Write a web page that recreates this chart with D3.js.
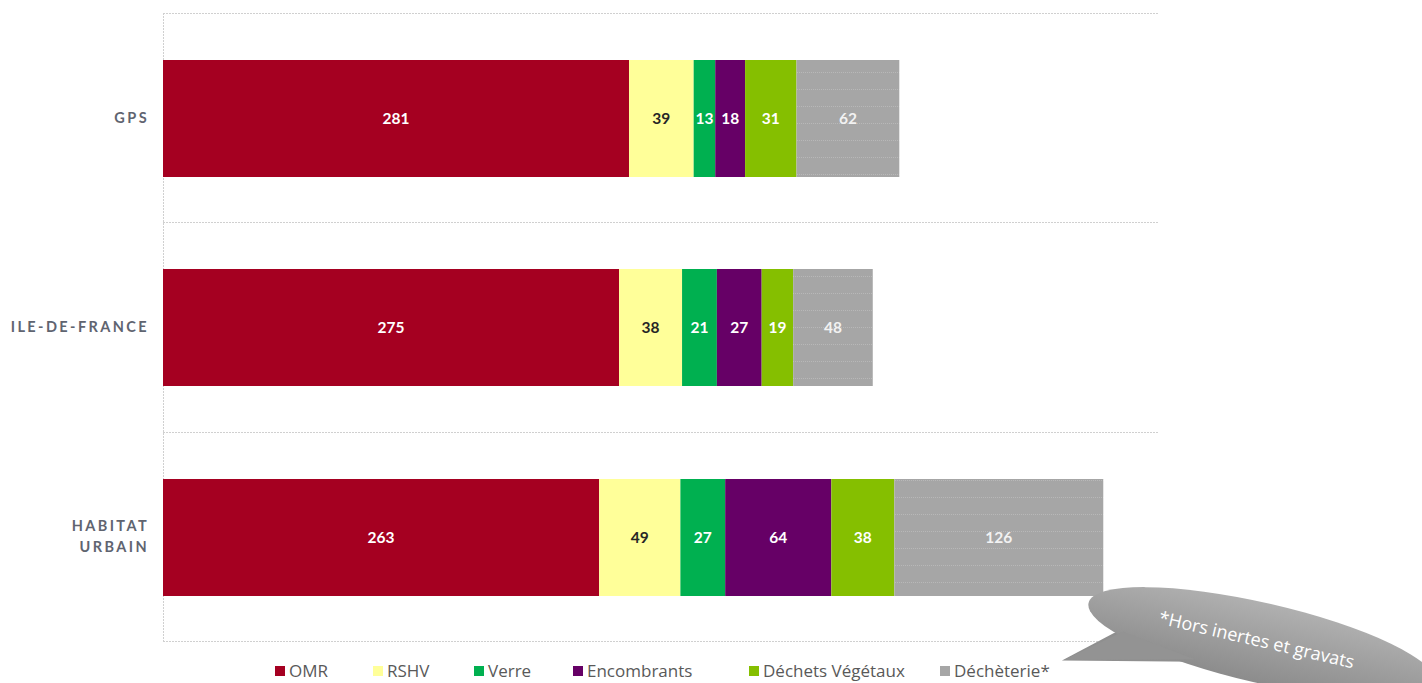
<!DOCTYPE html>
<html>
<head>
<meta charset="utf-8">
<script src="https://cdn.jsdelivr.net/npm/d3@7"></script>
<style>
  body { margin: 0; background: #fff; }
  svg { display: block; font-family: Lato, "Open Sans", sans-serif; }
</style>
</head>
<body>
<div id="canvas"></div>
<script>
const categories = ["GPS", "ILE-DE-FRANCE", "HABITAT URBAIN"];
const seriesNames = ["OMR", "RSHV", "Verre", "Encombrants", "Déchets Végétaux", "Déchèterie*"];
const omr = [281, 275, 263];
const rshv = [39, 38, 49];
const verre = [13, 21, 27];
const encombrants = [18, 27, 64];
const vegetaux = [31, 19, 38];
const decheterie = [62, 48, 126];
const colors = ["#a50021", "#ffff99", "#00b050", "#660066", "#85bf00", "#a6a6a6"];
const labelColors = ["#ffffff", "#262626", "#ffffff", "#ffffff", "#ffffff", "#f2f2f2"];
const note = "*Hors inertes et gravats";

const columns = [omr, rshv, verre, encombrants, vegetaux, decheterie];
const rows = categories.map((c, i) => {
  const r = { cat: c };
  seriesNames.forEach((s, j) => r[s] = columns[j][i]);
  return r;
});

const width = 1422, height = 683;
const margin = { top: 13, left: 163, bottom: 42, right: 264 };
const iwidth = width - margin.left - margin.right;
const iheight = height - margin.top - margin.bottom;

const svg = d3.select("#canvas").append("svg")
  .attr("width", width).attr("height", height);

const defs = svg.append("defs");
const pat = defs.append("pattern").attr("id", "dots")
  .attr("patternUnits", "userSpaceOnUse").attr("width", 6).attr("height", 17);
pat.append("rect").attr("width", 6).attr("height", 17).attr("fill", colors[5]);
pat.append("line").attr("x1", 0).attr("x2", 6).attr("y1", 8.5).attr("y2", 8.5)
  .attr("stroke", "#b8b8b8").attr("stroke-width", 1).attr("stroke-dasharray", "1,1");

const grad = defs.append("linearGradient").attr("id", "bubble")
  .attr("x1", 0).attr("y1", 0).attr("x2", 0).attr("y2", 1);
grad.append("stop").attr("offset", "0%").attr("stop-color", "#b0b0b0");
grad.append("stop").attr("offset", "100%").attr("stop-color", "#8c8c8c");

const g = svg.append("g").attr("transform", `translate(${margin.left},${margin.top})`);

const x = d3.scaleLinear().domain([0, 600]).range([0, iwidth]);
const y = d3.scaleBand().domain(categories).range([0, iheight]).paddingInner(0.44).paddingOuter(0.22);

// band separators
const seps = d3.range(categories.length + 1).map(i => i * iheight / categories.length);
g.selectAll("line.sep").data(seps).enter().append("line")
  .attr("class", "sep")
  .attr("x1", 0).attr("x2", iwidth)
  .attr("y1", d => Math.round(d) + 0.5).attr("y2", d => Math.round(d) + 0.5)
  .attr("stroke", "#d0d0d0").attr("stroke-dasharray", "2,1");
g.append("line").attr("x1", 0.5).attr("x2", 0.5).attr("y1", 0).attr("y2", iheight)
  .attr("stroke", "#d0d0d0").attr("stroke-dasharray", "2,1");

const stack = d3.stack().keys(seriesNames)(rows);

const layers = g.selectAll("g.layer").data(stack).enter().append("g")
  .attr("class", "layer")
  .attr("fill", (d, i) => i === 5 ? "url(#dots)" : colors[i]);

layers.selectAll("rect").data(d => d).enter().append("rect")
  .attr("x", d => x(d[0]))
  .attr("y", d => Math.round(y(d.data.cat)) + 1)
  .attr("width", d => x(d[1]) - x(d[0]))
  .attr("height", Math.round(y.bandwidth()));

layers.each(function (layer, i) {
  d3.select(this).selectAll("text").data(layer).enter().append("text")
    .attr("x", d => (x(d[0]) + x(d[1])) / 2)
    .attr("y", d => y(d.data.cat) + y.bandwidth() / 2 + 1)
    .attr("dy", "0.35em")
    .attr("text-anchor", "middle")
    .attr("font-size", 15.5).attr("font-weight", "bold")
    .attr("fill", labelColors[i])
    .text(d => d[1] - d[0]);
});

// category labels
const yAxis = g.append("g");
categories.forEach(c => {
  const words = c === "HABITAT URBAIN" ? ["HABITAT", "URBAIN"] : [c];
  const cy = y(c) + y.bandwidth() / 2;
  const t = yAxis.append("text")
    .attr("text-anchor", "end")
    .attr("font-size", 14.5).attr("font-weight", "bold")
    .attr("letter-spacing", "2.4px")
    .attr("fill", "#5f6470");
  words.forEach((w, k) => {
    t.append("tspan").attr("x", -14)
      .attr("y", cy + (k - (words.length - 1) / 2) * 21)
      .attr("dy", "0.35em")
      .text(w);
  });
});

// legend
const legendX = [275, 373, 474, 573, 749, 940];
const legend = svg.append("g").attr("transform", "translate(0,671)");
seriesNames.forEach((s, i) => {
  legend.append("rect").attr("x", legendX[i]).attr("y", -5).attr("width", 10).attr("height", 10)
    .attr("fill", colors[i]);
  legend.append("text").attr("x", legendX[i] + 14).attr("dy", "0.35em")
    .attr("font-size", 17).attr("fill", "#595959")
    .attr("font-family", "'Open Sans', sans-serif")
    .text(s);
});

// callout
const callout = svg.append("g").attr("transform", "translate(1262,643) rotate(13)");
callout.append("path")
  .attr("d", "M -140 18 L -191 62 L -60 33 Z")
  .attr("fill", "#8f8f8f");
callout.append("ellipse").attr("rx", 178).attr("ry", 40)
  .attr("fill", "url(#bubble)");
callout.append("path")
  .attr("d", "M -138 20 L -189 61 L -62 31 Z")
  .attr("fill", "#939393");
callout.append("text").attr("text-anchor", "middle").attr("dy", "0.35em")
  .attr("x", -6).attr("y", -2)
  .attr("font-size", 18).attr("fill", "#ffffff")
  .attr("font-family", "'Open Sans', sans-serif")
  .text(note);
</script>
</body>
</html>
